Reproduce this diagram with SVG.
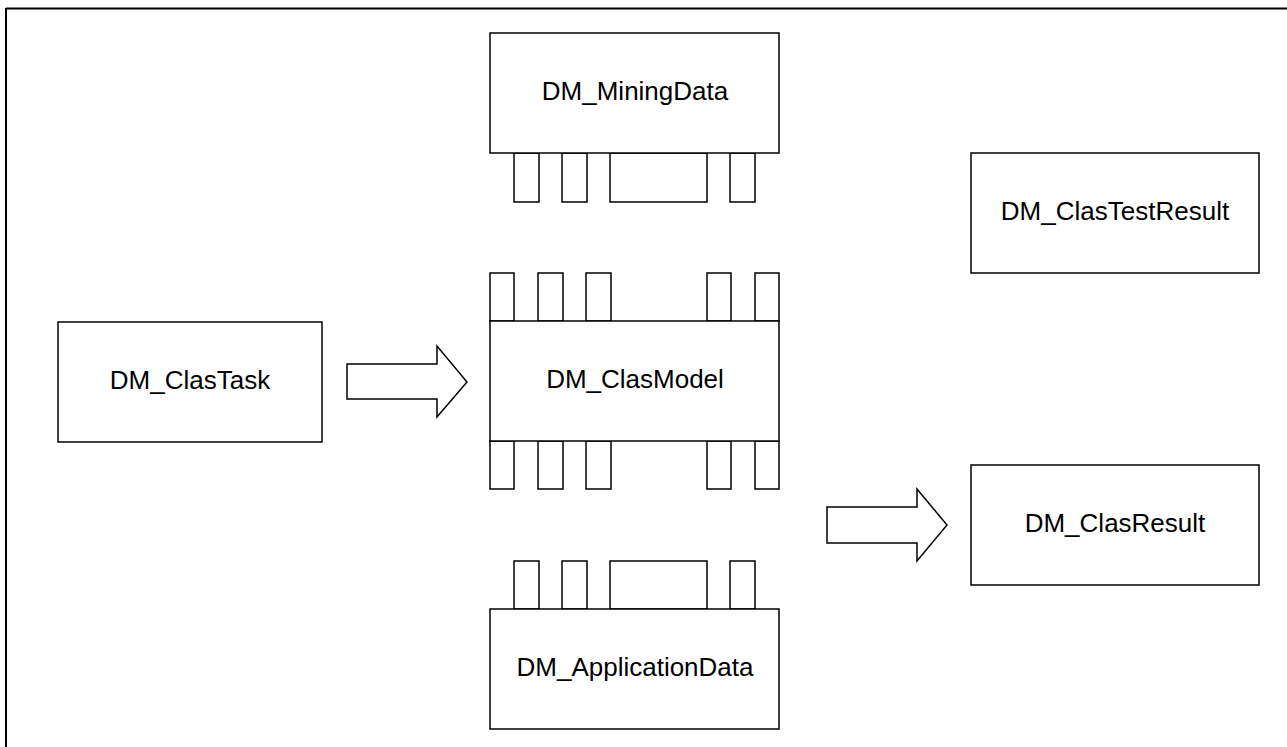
<svg xmlns="http://www.w3.org/2000/svg" width="1287" height="747" viewBox="0 0 1287 747">
<style>
.b{fill:#fff;stroke:#000;stroke-width:1.5}
.p{fill:#fff;stroke:#000;stroke-width:1.5}
.t{font-family:"Liberation Sans",Arial,sans-serif;font-size:26px;fill:#000;text-anchor:middle}
.a{fill:#fff;stroke:#000;stroke-width:1.5;stroke-linejoin:miter}
</style>
<rect x="0" y="0" width="1287" height="747" fill="#fff"/>
<g id="frame">
<line x1="6" y1="8.5" x2="1287" y2="8.5" stroke="#000" stroke-width="2"/>
<line x1="6" y1="8" x2="6" y2="747" stroke="#000" stroke-width="2"/>
</g>
<g id="DM_MiningData">
<rect class="p" x="514" y="153" width="25" height="49"/>
<rect class="p" x="562" y="153" width="25" height="49"/>
<rect class="p" x="610" y="153" width="97" height="49"/>
<rect class="p" x="730" y="153" width="25" height="49"/>
<rect class="b" x="490" y="33" width="289" height="120"/>
<text class="t" x="635" y="100">DM_MiningData</text>
</g>
<g id="DM_ClasModel">
<rect class="p" x="490" y="273" width="24" height="48"/>
<rect class="p" x="538" y="273" width="25" height="48"/>
<rect class="p" x="586" y="273" width="25" height="48"/>
<rect class="p" x="707" y="273" width="24" height="48"/>
<rect class="p" x="755" y="273" width="24" height="48"/>
<rect class="p" x="490" y="441" width="24" height="48"/>
<rect class="p" x="538" y="441" width="25" height="48"/>
<rect class="p" x="586" y="441" width="25" height="48"/>
<rect class="p" x="707" y="441" width="24" height="48"/>
<rect class="p" x="755" y="441" width="24" height="48"/>
<rect class="b" x="490" y="321" width="289" height="120"/>
<text class="t" x="635" y="388">DM_ClasModel</text>
</g>
<g id="DM_ApplicationData">
<rect class="p" x="514" y="561" width="25" height="48"/>
<rect class="p" x="562" y="561" width="25" height="48"/>
<rect class="p" x="610" y="561" width="97" height="48"/>
<rect class="p" x="730" y="561" width="25" height="48"/>
<rect class="b" x="490" y="609" width="289" height="120"/>
<text class="t" x="635" y="676">DM_ApplicationData</text>
</g>
<g id="DM_ClasTask">
<rect class="b" x="58" y="322" width="264" height="120"/>
<text class="t" x="190" y="389">DM_ClasTask</text>
</g>
<g id="DM_ClasTestResult">
<rect class="b" x="971" y="153" width="288" height="120"/>
<text class="t" x="1115" y="220">DM_ClasTestResult</text>
</g>
<g id="DM_ClasResult">
<rect class="b" x="971" y="465" width="288" height="120"/>
<text class="t" x="1115" y="532">DM_ClasResult</text>
</g>
<g id="connectors">
<polygon class="a" points="347,364 437,364 437,346 467,382 437,417 437,399 347,399"/>
<polygon class="a" points="827,507 917,507 917,489 947,525 917,561 917,543 827,543"/>
</g>
</svg>
